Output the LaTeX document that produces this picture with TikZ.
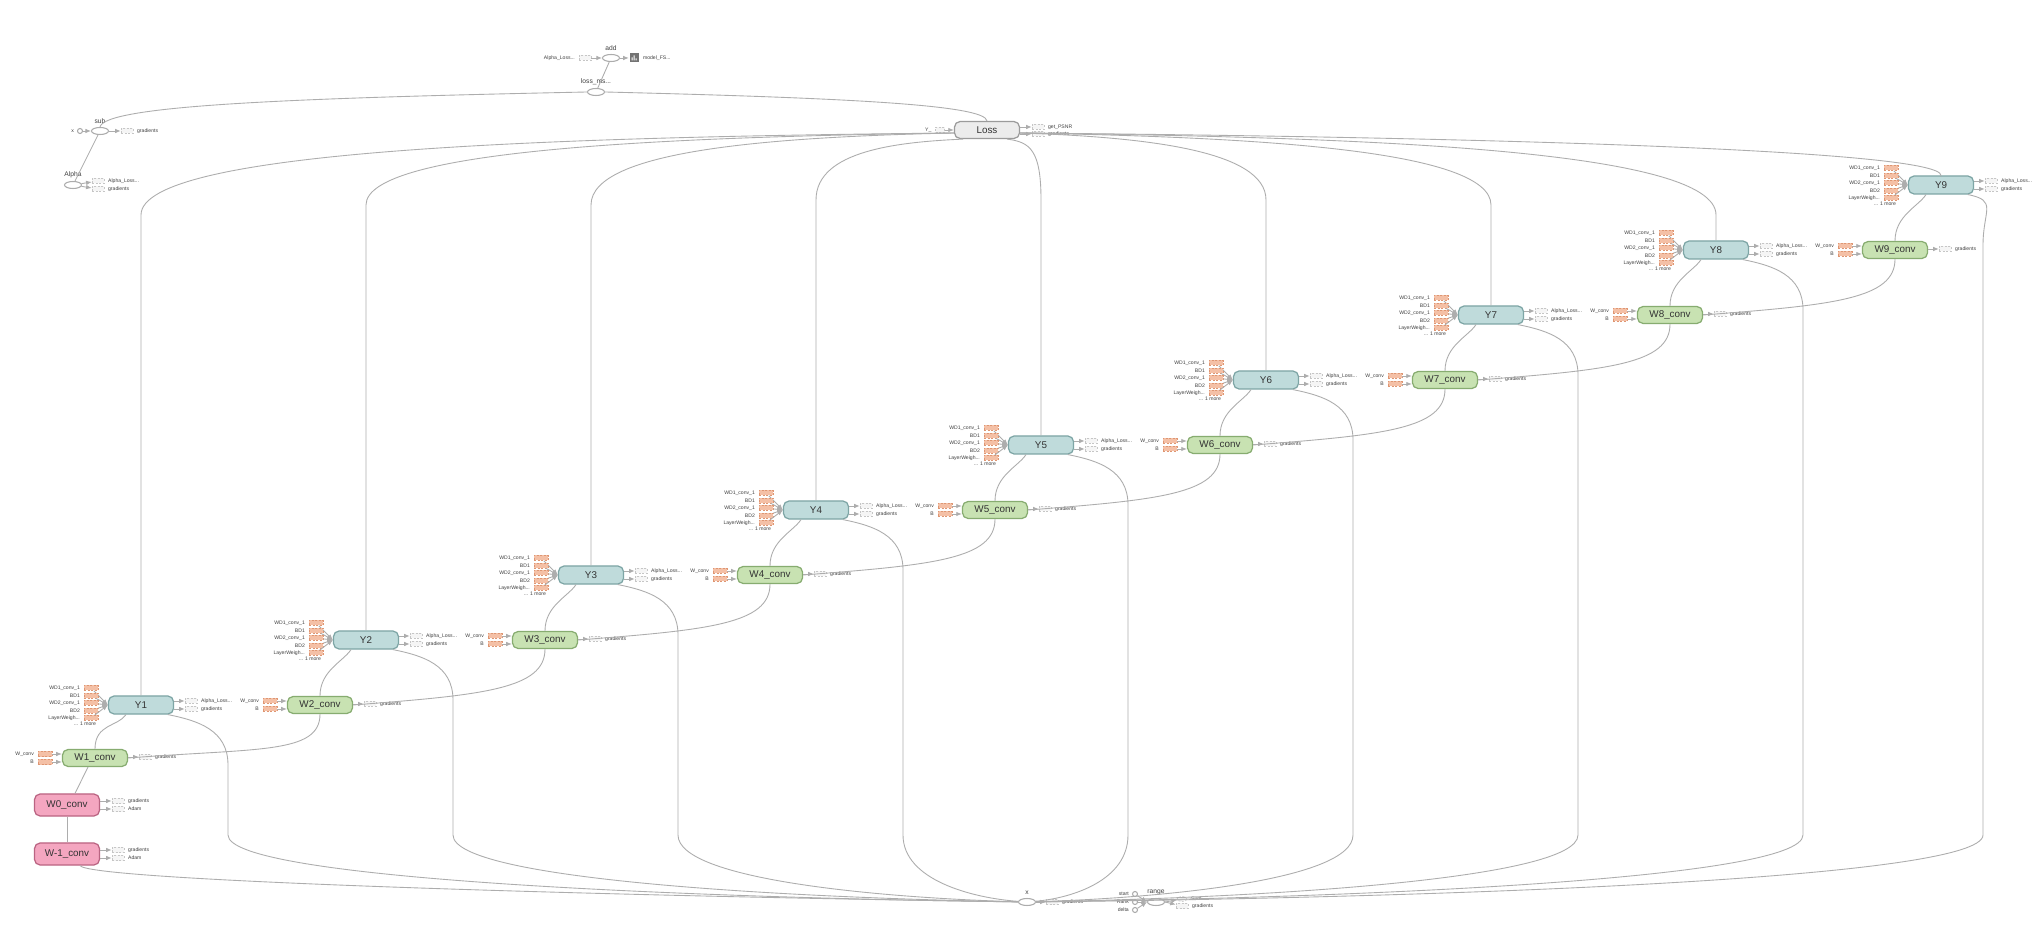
\documentclass[tikz,border=0pt]{standalone}
\usepackage{fontspec}
\setmainfont{Liberation Sans}
\usetikzlibrary{positioning,shapes.geometric,arrows.meta,calc}
\newcommand{\layerw}{LayerWeigh...}
\begin{document}
\begin{tikzpicture}[x=0.01cm, y=-0.01cm, >={Latex[length=1.6pt,width=1.3pt]},
    op/.style={draw, rounded corners=1.6pt, line width=0.35pt, minimum width=0.65cm,
        minimum height=0.18cm, inner sep=0pt, text=black!80, font=\fontsize{2.8}{3}\selectfont},
    ynode/.style={op, fill=ycol, draw=ycolD},
    wnode/.style={op, fill=wcol, draw=wcolD, minimum height=0.17cm},
    pnode/.style={op, fill=pcol, draw=pcolD, minimum height=0.22cm},
    lossnode/.style={op, fill=lcol, draw=lcolD, minimum height=0.17cm},
    ostub/.style={draw=ocolD, dash pattern=on 0.6pt off 0.4pt, fill=ocol, line width=0.15pt,
        minimum width=0.14cm, minimum height=0.05cm, inner sep=0pt},
    gstub/.style={ostub, draw=gray!45, fill=gray!8, minimum width=0.12cm},
    ell/.style={ellipse, draw=gray!65, line width=0.3pt, minimum width=0.17cm,
        minimum height=0.07cm, inner sep=0pt},
    dot/.style={circle, draw=gray!65, line width=0.3pt, minimum size=0.05cm, inner sep=0pt},
    tiny/.style={font=\fontsize{1.45}{1.6}\selectfont, text=black!75, inner sep=0.4pt},
    lbl/.style={font=\fontsize{1.9}{2}\selectfont, text=black!75, inner sep=0.5pt},
    edge/.style={draw=black!32, line width=0.25pt}]
    % Màu sắc giống TensorBoard
    \definecolor{ycol}{RGB}{191, 219, 219}
    \definecolor{ycolD}{RGB}{125, 165, 165}
    \definecolor{wcol}{RGB}{200, 226, 178}
    \definecolor{wcolD}{RGB}{135, 172, 112}
    \definecolor{pcol}{RGB}{244, 166, 192}
    \definecolor{pcolD}{RGB}{186, 100, 130}
    \definecolor{lcol}{RGB}{236, 236, 236}
    \definecolor{lcolD}{RGB}{155, 155, 155}
    \definecolor{ocol}{RGB}{244, 192, 166}
    \definecolor{ocolD}{RGB}{222, 150, 115}

    \fill[white] (0,0) rectangle (2036,928);
    \useasboundingbox (0,0) rectangle (2036,928);

    % 1. Nút Loss và phần phía trên
    \node[lossnode] (Loss) at (987,130) {Loss};
    \node[gstub, minimum width=0.09cm] (Ys) at (940,130) {};
    \node[tiny, left=0.5pt of Ys] (Yst) {Y\_};
    \draw[edge,->] (Ys) -- (Loss.west);
    \node[gstub] (Lo1) at (1038,127) {};
    \node[gstub] (Lo2) at (1038,134) {};
    \node[tiny, right=0.5pt of Lo1] (Lt1) {get\_PSNR};
    \node[tiny, right=0.5pt of Lo2] (Lt2) {gradients};
    \draw[edge,->] (Loss.east |- Lo1) -- (Lo1);
    \draw[edge,->] (Loss.east |- Lo2) -- (Lo2);

    \node[ell] (add) at (611,58) {};
    \node[lbl, above=0.3pt of add] (addl) {add};
    \node[gstub] (adds) at (585,58) {};
    \node[tiny, left=0.5pt of adds] (addt) {Alpha\_Loss...};
    \draw[edge,->] (adds) -- (add);
    \node[fill=black!55, minimum size=0.09cm, inner sep=0pt] (summ) at (634,58) {};
    \fill[white] ([shift={(-2.5,2.5)}]summ.center) rectangle +(1,-3)
                 ([shift={(-0.5,2.5)}]summ.center) rectangle +(1,-5)
                 ([shift={(1.5,2.5)}]summ.center) rectangle +(1,-2);
    \node[tiny, right=0.5pt of summ] (summt) {model\_FS...};
    \draw[edge,->] (add) -- (summ);

    \node[ell] (lossms) at (596,92) {};
    \node[lbl, above=0.3pt of lossms] (lossmsl) {loss\_ms...};
    \draw[edge] (add) -- (lossms);
    \draw[edge] (lossms.east) .. controls (850,98) and (985,105) .. (Loss.north);

    \node[ell] (sub) at (100,131) {};
    \node[lbl, above=0.3pt of sub] (subl) {sub};
    \node[dot] (xin) at (80,131) {};
    \node[tiny, left=0.3pt of xin] (xint) {x};
    \draw[edge,->] (xin) -- (sub);
    \node[gstub] (subs) at (127,131) {};
    \node[tiny, right=0.5pt of subs] (subt) {gradients};
    \draw[edge,->] (sub) -- (subs);
    \draw[edge] (lossms.west) .. controls (300,98) and (105,105) .. (sub.north);

    \node[ell] (Alpha) at (73,185) {};
    \node[lbl, above=0.3pt of Alpha] (Alphal) {Alpha};
    \node[gstub] (As1) at (98,181) {};
    \node[gstub] (As2) at (98,189) {};
    \node[tiny, right=0.5pt of As1] (At1) {Alpha\_Loss...};
    \node[tiny, right=0.5pt of As2] (At2) {gradients};
    \draw[edge,->] (Alpha) -- (As1);
    \draw[edge,->] (Alpha) -- (As2);
    \draw[edge] (sub) -- (Alpha);

    % 2. Các nút Y và W
    \foreach \k in {1,...,9}{
        \pgfmathsetmacro\yx{141+225*(\k-1)}
        \pgfmathsetmacro\yy{705-65*(\k-1)}
        \node[ynode] (Y\k) at (\yx,\yy) {Y\k};
        \foreach \n/\dy/\lab in {1/-17/WD1\_conv\_1, 2/-9.5/BD1, 3/-2/WD2\_conv\_1, 4/5.5/BD2, 5/13/\layerw}{
            \node[ostub] (Y\k-i\n) at ([shift={(-50,\dy)}]Y\k.center) {};
            \node[tiny, left=0.5pt of Y\k-i\n] (Y\k-t\n) {\lab};
            \draw[edge,->] (Y\k-i\n) -- (Y\k.west);
        }
        \node[tiny, anchor=east] (Y\k-more) at ([shift={(-43,19)}]Y\k.center) {... 1 more};
        \node[gstub] (Y\k-o1) at ([shift={(50,-4)}]Y\k.center) {};
        \node[gstub] (Y\k-o2) at ([shift={(50,4)}]Y\k.center) {};
        \node[tiny, right=0.5pt of Y\k-o1] (Y\k-p1) {Alpha\_Loss...};
        \node[tiny, right=0.5pt of Y\k-o2] (Y\k-p2) {gradients};
        \draw[edge,->] (Y\k.east |- Y\k-o1) -- (Y\k-o1);
        \draw[edge,->] (Y\k.east |- Y\k-o2) -- (Y\k-o2);

        \pgfmathsetmacro\wx{95+225*(\k-1)}
        \pgfmathsetmacro\wy{\k==1 ? 758 : 770-65*(\k-1)}
        \node[wnode] (W\k) at (\wx,\wy) {W\k\_conv};
        \node[ostub] (W\k-i1) at ([shift={(-50,-4)}]W\k.center) {};
        \node[ostub] (W\k-i2) at ([shift={(-50,4)}]W\k.center) {};
        \node[tiny, left=0.5pt of W\k-i1] (W\k-t1) {W\_conv};
        \node[tiny, left=0.5pt of W\k-i2] (W\k-t2) {B};
        \draw[edge,->] (W\k-i1) -- (W\k.west |- W\k-i1);
        \draw[edge,->] (W\k-i2) -- (W\k.west |- W\k-i2);
        \node[gstub] (W\k-o) at ([shift={(50,-1)}]W\k.center) {};
        \node[tiny, right=0.5pt of W\k-o] (W\k-p) {gradients};
        \draw[edge,->] (W\k.east |- W\k-o) -- (W\k-o);
        \draw[edge] (W\k.north) .. controls +(0,-25) and +(-8,12) .. ([xshift=-0.15cm]Y\k.south);
    }

    % 3. W0_conv, W-1_conv
    \node[pnode] (W0) at (67,805) {W0\_conv};
    \node[pnode] (Wm1) at (67,854) {W-1\_conv};
    \foreach \m in {W0,Wm1}{
        \node[gstub] (\m-o1) at ([shift={(51,-4)}]\m.center) {};
        \node[gstub] (\m-o2) at ([shift={(51,4)}]\m.center) {};
        \node[tiny, right=0.5pt of \m-o1] (\m-p1) {gradients};
        \node[tiny, right=0.5pt of \m-o2] (\m-p2) {Adam};
        \draw[edge,->] (\m.east |- \m-o1) -- (\m-o1);
        \draw[edge,->] (\m.east |- \m-o2) -- (\m-o2);
    }
    \draw[edge] ([xshift=0.08cm]W0.north) -- ([xshift=-0.07cm]W1.south);
    \draw[edge] (Wm1.north) -- (W0.south);

    % 4. Chuỗi W_k -> W_{k+1}
    \foreach \k in {1,...,8}{
        \pgfmathtruncatemacro\j{\k+1}
        \draw[edge] (W\k.east) .. controls +(130,-10) and +(0,40) .. (W\j.south);
    }

    % 5. Y -> Loss
    \foreach \k/\ty in {1/215,2/205,3/205}{
        \pgfmathsetmacro\yx{141+225*(\k-1)}
        \pgfmathsetmacro\cx{\yx+0.5*(955-\yx)}
        \draw[edge] (Y\k.north) -- (\yx,\ty) .. controls (\yx,150) and (\cx,137) .. ([yshift=-0.03cm]Loss.west);
    }
    \draw[edge] (Y4.north) -- (816,200) .. controls (816,150) and (900,142) .. ([xshift=-0.24cm]Loss.south);
    \draw[edge] (Y5.north) -- (1041,200) .. controls (1041,150) and (1030,142) .. ([xshift=0.2cm]Loss.south);
    \foreach \k/\ty in {6/200,7/205,8/215,9/175.5}{
        \pgfmathsetmacro\yx{141+225*(\k-1)}
        \pgfmathsetmacro\cx{\yx-0.5*(\yx-1020)}
        \draw[edge] (Y\k.north) -- (\yx,\ty) .. controls (\yx,150) and (\cx,137) .. ([yshift=-0.03cm]Loss.east);
    }

    % 6. Phần dưới: x và range
    \node[ell] (x) at (1027,902) {};
    \node[lbl, above=0.3pt of x] (xl) {x};
    \node[gstub] (xg) at (1052,902) {};
    \node[tiny, right=0.5pt of xg] (xgt) {gradients};
    \draw[edge,->] (x) -- (xg);

    \node[ell] (range) at (1156,902) {};
    \node[lbl, above=0.3pt of range] (rangel) {range};
    \foreach \r/\ry in {start/894, Rank/902, delta/910}{
        \node[dot] (\r) at (1135,\ry) {};
        \node[tiny, left=0.3pt of \r] (\r-t) {\r};
        \draw[edge,->] (\r) -- (range.west);
    }
    \node[ellipse, draw=gray!50, dash pattern=on 0.6pt off 0.4pt, line width=0.15pt, fill=white,
        minimum width=0.1cm, minimum height=0.05cm, inner sep=0pt] (sums) at (1182,899) {};
    \node[tiny, right=0.5pt of sums] (sumt) {Sum};
    \node[gstub] (rg) at (1182,906) {};
    \node[tiny, right=0.5pt of rg] (rgt) {gradients};
    \draw[edge,->] (range.east) -- (sums);
    \draw[edge,->] (range.east) -- (rg);

    % 7. Y -> x
    \foreach \k in {1,...,9}{
        \pgfmathsetmacro\yx{141+225*(\k-1)}
        \pgfmathsetmacro\yy{705-65*(\k-1)}
        \pgfmathsetmacro\vx{\k==9 ? 1983 : \yx+87}
        \pgfmathsetmacro\xe{\k<5 ? 1018 : 1036}
        \pgfmathsetmacro\cx{\vx+0.6*(\xe-\vx)}
        \draw[edge] ([xshift=0.27cm]Y\k.south) .. controls +(30,6) and (\vx,\yy+25) .. (\vx,\yy+60)
            -- (\vx,835) .. controls (\vx,880) and (\cx,898) .. (x);
    }
    \draw[edge] ([xshift=0.13cm]Wm1.south) .. controls +(10,15) and (600,896) .. (x);
\end{tikzpicture}
\end{document}
